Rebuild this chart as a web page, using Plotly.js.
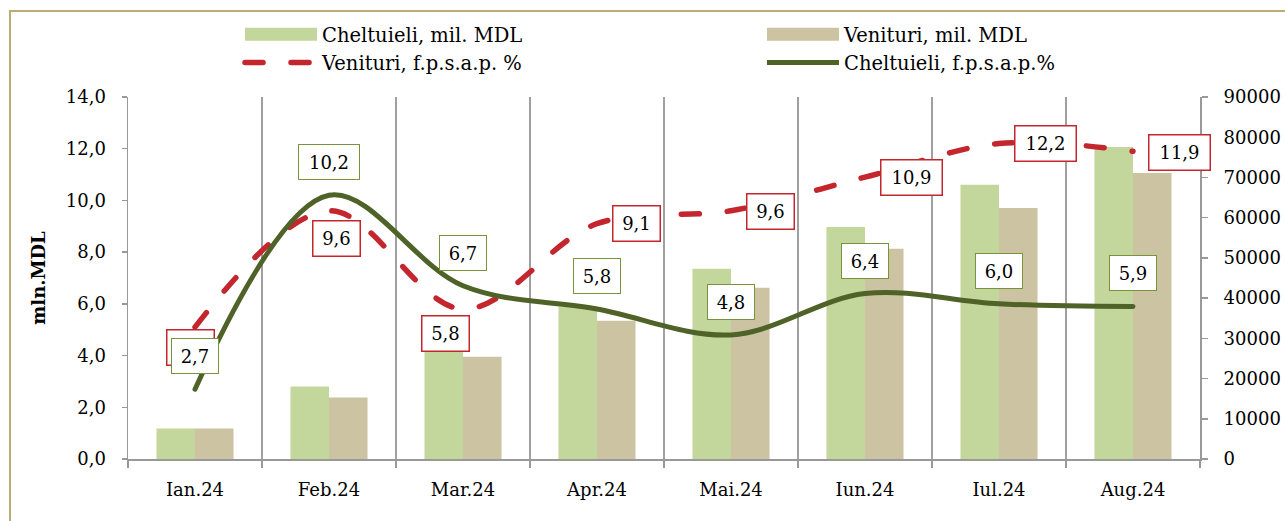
<!DOCTYPE html>
<html><head><meta charset="utf-8">
<script src="https://cdn.plot.ly/plotly-3.0.1.min.js"></script>
<style>
html,body{margin:0;padding:0;background:#fff;}
#chart{width:1285px;height:521px;}
.scatterlayer .js-line{stroke-linecap:round !important;}
.legend .js-line{stroke-linecap:round !important;}
</style></head><body><div id="chart"></div>
<script>
// ---- data ----
const months = ['Ian.24','Feb.24','Mar.24','Apr.24','Mai.24','Iun.24','Iul.24','Aug.24'];
const cheltuieliMil = [7570, 18000, 27700, 37900, 47300, 57700, 68200, 77600];
const venituriMil   = [7570, 15300, 25450, 34400, 42600, 52300, 62400, 71100];
const venituriPct   = [5.1, 9.6, 5.8, 9.1, 9.6, 10.9, 12.2, 11.9];
const cheltuieliPct = [2.7, 10.2, 6.7, 5.8, 4.8, 6.4, 6.0, 5.9];
const leftTicks  = [0, 2, 4, 6, 8, 10, 12, 14];
const rightTicks = [0, 10000, 20000, 30000, 40000, 50000, 60000, 70000, 80000, 90000];

const FONT = 'DejaVu Serif';
const GREEN_BAR = '#c3d69b', TAN_BAR = '#cbc3a2', RED = '#c3262d', OLIVE = '#4f6228';
const fmt = v => v.toFixed(1).replace('.', ',');

const traces = [
  {type:'bar', name:'Cheltuieli, mil. MDL', x:months, y:cheltuieliMil, marker:{color:GREEN_BAR}, yaxis:'y', legend:'legend'},
  {type:'bar', name:'Venituri, mil. MDL', x:months, y:venituriMil, marker:{color:TAN_BAR}, yaxis:'y', legend:'legend2'},
  {type:'scatter', mode:'lines', name:'Venituri, f.p.s.a.p. %', x:months, y:venituriPct, yaxis:'y2', legend:'legend',
   line:{color:RED, width:5.5, dash:'18px,28px', shape:'spline', smoothing:1}},
  {type:'scatter', mode:'lines', name:'Cheltuieli, f.p.s.a.p.%', x:months, y:cheltuieliPct, yaxis:'y2', legend:'legend2',
   line:{color:OLIVE, width:5, shape:'spline', smoothing:1}}
];

// label placement (styling only)
const redPlace = [
  {xa:'center', dx:-5,  dy:-20},
  {xa:'center', dx:7,   dy:-28},
  {xa:'center', dx:-18, dy:-24},
  {xa:'left',   dx:15,  dy:0},
  {xa:'left',   dx:15,  dy:-1},
  {xa:'left',   dx:15,  dy:0},
  {xa:'left',   dx:15,  dy:0},
  {xa:'left',   dx:15,  dy:-1}
];

const annotations = [];
venituriPct.forEach((v, i) => {
  const t = fmt(v);
  annotations.push({x:months[i], y:v, xref:'x', yref:'y2', text:t, showarrow:false,
    xanchor:redPlace[i].xa, yanchor:'middle', xshift:redPlace[i].dx, yshift:redPlace[i].dy,
    font:{family:FONT, size:18, color:'#000'}, bgcolor:'#fff', bordercolor:RED, borderwidth:1.5,
    borderpad:3, width:t.length*14-2, height:28});
});
cheltuieliPct.forEach((v, i) => {
  const t = fmt(v);
  annotations.push({x:months[i], y:v, xref:'x', yref:'y2', text:t, showarrow:false,
    xanchor:'center', yanchor:'middle', yshift:33,
    font:{family:FONT, size:18, color:'#000'}, bgcolor:'#fff', bordercolor:'#77933c', borderwidth:1,
    borderpad:3, width:t.length*14-2, height:28});
});

const legendBase = {orientation:'v', yanchor:'top', y:1.2265, xanchor:'left', itemwidth:72,
  font:{family:FONT, size:19.5, color:'#000'}, bgcolor:'rgba(0,0,0,0)', traceorder:'normal', tracegroupgap:0};

const layout = {
  width:1285, height:521,
  margin:{l:128, r:85, t:97, b:62, pad:0, autoexpand:false},
  paper_bgcolor:'#fff', plot_bgcolor:'rgba(0,0,0,0)',
  separators:', ',
  font:{family:FONT, size:18, color:'#000'},
  barmode:'group', bargap:0.425, bargroupgap:0,
  showlegend:true,
  legend:Object.assign({}, legendBase, {x:0.1045}),
  legend2:Object.assign({}, legendBase, {x:0.5914}),
  xaxis:{type:'category', range:[-0.5, months.length - 0.5], autorange:false,
    tickson:'boundaries', showgrid:true, gridcolor:'#a0a0a0', gridwidth:1.6, automargin:false,
    showline:true, linecolor:'#999', linewidth:1.6, ticks:'outside', ticklen:7, tickcolor:'#999', tickwidth:1.5,
    tickfont:{family:FONT, size:18}, ticklabelstandoff:14, zeroline:false},
  yaxis:{side:'right', range:[0,90000], autorange:false, tickvals:rightTicks, tickformat:'d', showgrid:false, zeroline:false, automargin:false,
    showline:true, linecolor:'#999', linewidth:2, ticks:'outside', ticklen:6, tickcolor:'#999', tickwidth:1.5,
    tickfont:{family:FONT, size:18}, ticklabelstandoff:12},
  yaxis2:{side:'left', overlaying:'y', range:[0,14], autorange:false, tickvals:leftTicks, tickformat:'.1f', showgrid:false, zeroline:false, automargin:false,
    showline:true, linecolor:'#999', linewidth:1.5, ticks:'outside', ticklen:5, tickcolor:'#999', tickwidth:1.5,
    tickfont:{family:FONT, size:18}, ticklabelstandoff:12,
    title:{text:'<b>mln.MDL</b>', font:{family:FONT, size:18, color:'#000'}, standoff:15}},
  shapes:[{type:'rect', xref:'paper', yref:'paper', x0:-0.1101, x1:1.3, y0:-0.4, y1:1.2376,
    line:{color:'#b9ad74', width:2}, fillcolor:'rgba(0,0,0,0)', layer:'below'}],
  annotations:annotations
};

function widenSwatches(gd) {
  // widen the bar swatches in the legends to match the reference's long rectangles
  gd.querySelectorAll('.legendpoints path').forEach(p => {
    const d = p.getAttribute('d') || '';
    if (/^M6,6H-6V-6H6Z$/.test(d.replace(/\s/g, ''))) p.setAttribute('d', 'M-36,6.5H36V-6.5H-36Z');
  });
}
const gdiv = document.getElementById('chart');
Plotly.newPlot(gdiv, traces, layout, {displayModeBar:false, staticPlot:true}).then(gd => {
  widenSwatches(gd);
  gd.on('plotly_afterplot', () => widenSwatches(gd));
  setTimeout(() => widenSwatches(gd), 50);
  setTimeout(() => widenSwatches(gd), 300);
});
</script></body></html>
